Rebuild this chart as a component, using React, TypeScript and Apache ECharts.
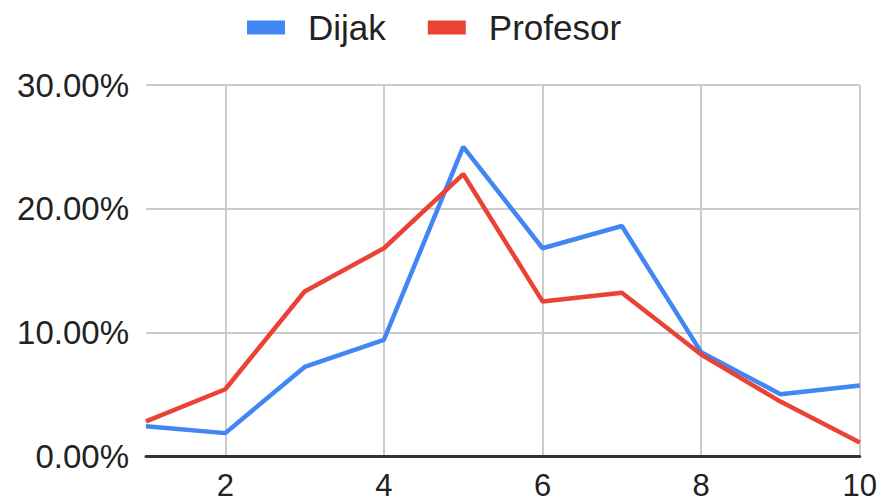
import React, { useEffect, useRef } from "react";
import * as echarts from "echarts";

const categories = ["1", "2", "3", "4", "5", "6", "7", "8", "9", "10"];
const dijak = [2.4, 1.85, 7.2, 9.4, 25.0, 16.8, 18.6, 8.4, 5.0, 5.7];
const profesor = [2.8, 5.4, 13.3, 16.8, 22.8, 12.5, 13.2, 8.2, 4.4, 1.1];
const seriesNames = ["Dijak", "Profesor"];
const yTicks = { min: 0, max: 30, interval: 10 };

export default function App() {
  const ref = useRef<HTMLDivElement>(null);
  useEffect(() => {
    if (!ref.current) return;
    const chart = echarts.init(ref.current, null, { renderer: "svg" });
    const font = "'Liberation Sans', Arial, sans-serif";
    chart.setOption({
      animation: false,
      backgroundColor: "#ffffff",
      legend: {
        top: 5,
        left: 242,
        itemWidth: 38,
        itemHeight: 14,
        itemGap: 42,
        icon: "rect",
        textStyle: {
          fontFamily: font,
          fontSize: 35,
          color: "#222222",
          padding: [0, 0, 0, 18],
        },
        data: seriesNames,
      },
      grid: { left: 146, right: 20, top: 85, bottom: 48 },
      xAxis: {
        type: "category",
        data: categories,
        boundaryGap: false,
        axisLine: { show: true, lineStyle: { color: "#333333", width: 3 } },
        axisTick: { show: false },
        axisLabel: {
          interval: (i: number) => i % 2 === 1,
          margin: 14,
          fontFamily: font,
          fontSize: 31,
          lineHeight: 31,
          color: "#222222",
        },
        splitLine: {
          show: true,
          interval: (i: number) => i % 2 === 1,
          lineStyle: { color: "#cccccc", width: 2 },
        },
      },
      yAxis: {
        type: "value",
        min: yTicks.min,
        max: yTicks.max,
        interval: yTicks.interval,
        axisLine: { show: false },
        axisTick: { show: false },
        axisLabel: {
          margin: 17,
          fontFamily: font,
          fontSize: 33,
          color: "#222222",
          formatter: (v: number) => v.toFixed(2) + "%",
        },
        splitLine: { lineStyle: { color: "#cccccc", width: 2 } },
      },
      series: [
        {
          name: seriesNames[0],
          type: "line",
          data: dijak,
          symbol: "none",
          color: "#4285F4",
          lineStyle: { width: 4.5, color: "#4285F4" },
        },
        {
          name: seriesNames[1],
          type: "line",
          data: profesor,
          symbol: "none",
          color: "#EA4335",
          lineStyle: { width: 4.5, color: "#EA4335" },
        },
      ],
    });
    return () => chart.dispose();
  }, []);
  return (
    <div
      ref={ref}
      style={{ position: "fixed", left: 0, top: 0, width: 880, height: 504 }}
    />
  );
}
